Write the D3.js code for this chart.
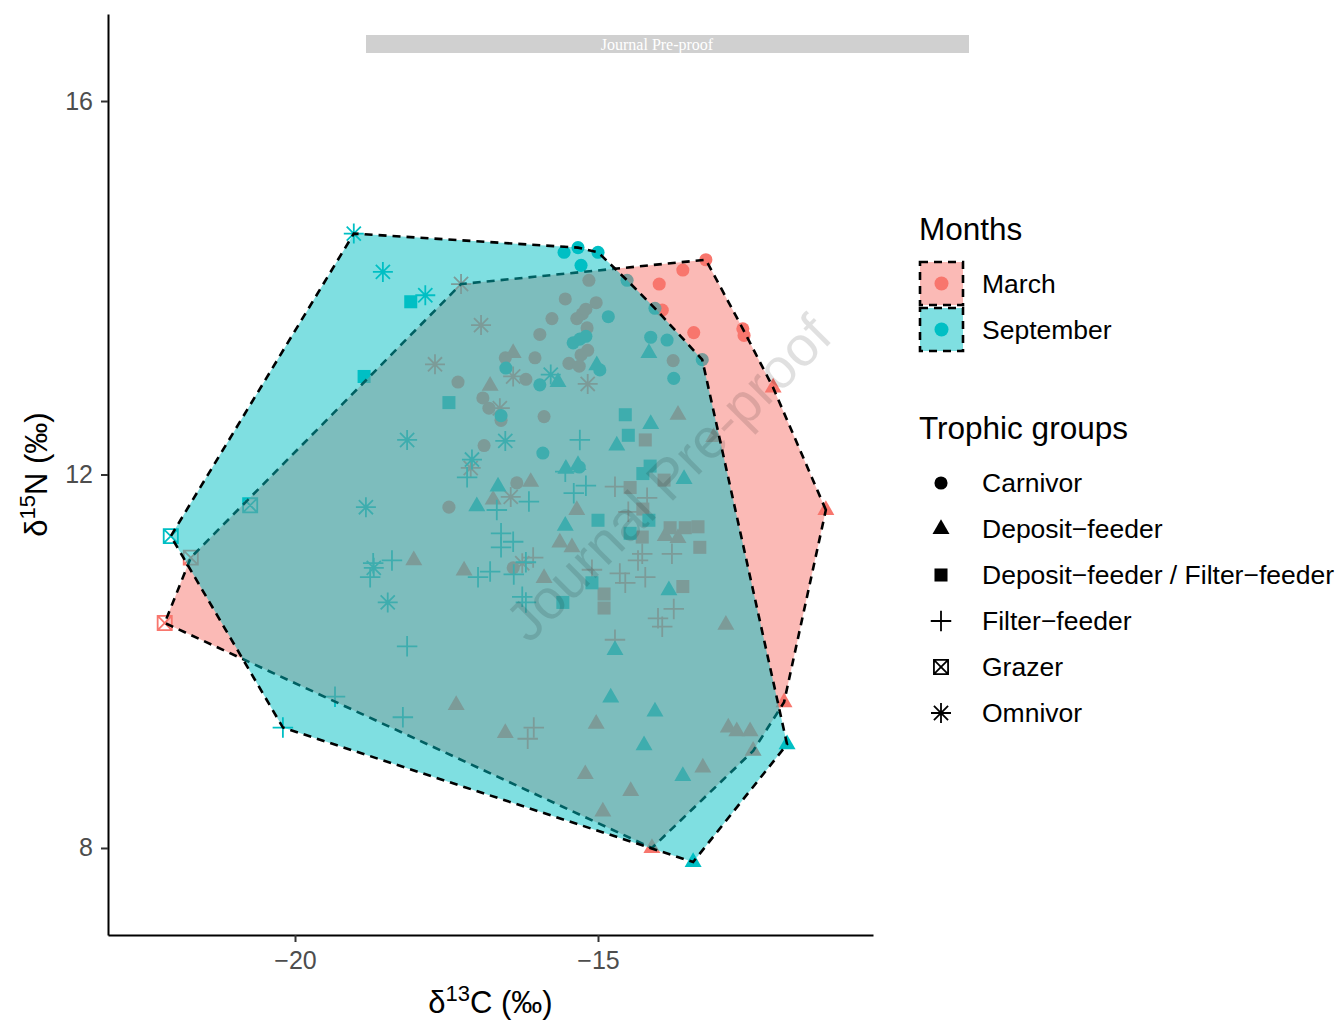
<!DOCTYPE html>
<html>
<head>
<meta charset="utf-8">
<script src="https://cdn.jsdelivr.net/npm/d3@7"></script>
<style>
	body { margin: 0; background: #fff; }
	svg { display: block; font-family: "Liberation Sans", Arial, sans-serif; }
</style>
</head>
<body>
<svg id="chart" width="1336" height="1021"></svg>
<script>
(function() {

	// DATA  (d13C, d15N)
	var xDomain = [-23.086, -10.462];
	var yDomain = [7.068, 16.932];
	var xTicks = [-20, -15];
	var yTicks = [8, 12, 16];

	var months = ['March', 'September'];
	var groups = ['Carnivor', 'Deposit\u2212feeder', 'Deposit\u2212feeder / Filter\u2212feeder',
		'Filter\u2212feeder', 'Grazer', 'Omnivor'];

	var marchCarnivor = [
		[-15.15,14.08],[-15.54,13.88],[-15.03,13.84],[-15.35,13.67],[-15.26,13.72],[-15.20,13.77],
		[-15.76,13.67],[-15.18,13.57],[-15.96,13.50],[-15.17,13.33],[-15.28,13.28],[-16.53,13.25],
		[-16.04,13.25],[-16.19,13.02],[-15.48,13.19],[-15.31,13.16],[-17.31,12.99],[-16.90,12.82],
		[-16.80,12.71],[-16.60,12.58],[-15.89,12.62],[-16.88,12.31],[-16.34,11.91],[-17.46,11.65],
		[-16.40,11.00],[-13.22,14.30],[-13.60,14.19],[-13.99,14.04],[-13.94,13.76],[-13.42,13.52],
		[-12.61,13.56],[-12.59,13.49],[-13.76,13.22]
	];
	var marchDeposit = [
		[-16.40,13.30],[-16.78,12.95],[-13.68,12.64],[-12.11,12.93],[-16.11,11.92],[-16.73,11.73],
		[-15.35,11.62],[-15.63,11.27],[-15.43,11.22],[-18.04,11.08],[-17.21,10.97],[-15.89,10.89],
		[-13.89,11.34],[-13.68,11.32],[-12.89,10.39],[-13.09,12.40],[-11.24,11.62],[-17.34,9.53],
		[-16.53,9.23],[-15.03,9.33],[-15.21,8.79],[-14.92,8.39],[-14.46,8.61],[-13.27,8.86],
		[-12.85,9.29],[-12.71,9.25],[-12.49,9.25],[-12.44,9.04],[-11.93,9.56],[-14.11,8.00]
	];
	var marchMixed = [
		[-14.22,12.37],[-13.91,11.94],[-14.47,11.86],[-14.26,11.63],[-14.27,11.33],[-13.81,11.43],
		[-13.56,11.43],[-13.35,11.44],[-13.32,11.22],[-13.60,10.80],[-14.90,10.72],[-14.90,10.57]
	];
	var marchFilter = [
		[-16.07,11.11],[-15.10,10.98],[-14.72,11.87],[-14.19,11.75],[-14.50,11.60],[-14.27,11.15],
		[-14.34,11.08],[-13.78,11.15],[-14.64,10.94],[-14.55,10.84],[-14.22,10.90],[-13.75,10.56],
		[-14.01,10.46],[-13.94,10.37],[-14.72,10.23],[-16.06,9.29],[-16.16,9.17]
	];
	var marchGrazer = [[-21.72,11.11],[-22.15,10.41]];
	var marchOmnivor = [
		[-17.26,14.04],[-16.93,13.60],[-17.69,13.18],[-16.40,13.05],[-15.17,12.97],[-16.62,12.71],
		[-17.10,12.07],[-16.44,11.76],[-16.25,11.05]
	];

	var septCarnivor = [
		[-15.56,14.38],[-15.33,14.43],[-15.00,14.38],[-15.28,14.24],[-14.83,13.69],[-15.41,13.41],
		[-15.30,13.45],[-15.20,13.48],[-16.52,13.14],[-15.96,12.96],[-14.97,13.12],[-16.60,12.63],
		[-15.91,12.23],[-15.31,12.08],[-14.52,14.08],[-14.06,13.78],[-14.13,13.47],[-13.86,13.44],
		[-13.28,13.23],[-13.75,13.03]
	];
	var septDeposit = [
		[-15.66,12.99],[-15.02,13.17],[-14.16,13.30],[-14.13,12.54],[-15.53,12.06],[-15.33,12.10],
		[-16.65,11.87],[-17.00,11.66],[-15.54,11.45],[-14.69,12.31],[-13.58,11.95],[-13.83,10.76],
		[-14.72,10.12],[-14.79,9.61],[-14.06,9.46],[-14.24,9.10],[-13.60,8.77],[-11.88,9.11],
		[-13.43,7.85]
	];
	var septMixed = [
		[-18.86,13.05],[-18.09,13.85],[-17.46,12.77],[-14.55,12.64],[-14.50,12.42],[-14.14,12.09],
		[-14.26,12.01],[-15.00,11.51],[-14.16,11.51],[-14.47,11.37],[-15.10,10.84],[-15.58,10.63]
	];
	var septFilter = [
		[-15.30,12.37],[-17.16,11.97],[-15.54,12.03],[-16.67,11.62],[-16.14,11.71],[-15.40,11.80],
		[-15.20,11.88],[-16.60,11.37],[-16.40,11.28],[-16.60,11.22],[-18.40,11.08],[-16.98,10.90],
		[-16.78,10.96],[-16.19,11.06],[-16.39,10.93],[-16.25,10.69],[-16.19,10.63],[-18.15,10.16],
		[-18.71,11.05],[-18.76,10.90],[-19.34,9.62],[-18.22,9.40],[-20.20,9.29]
	];
	var septGrazer = [[-22.05,11.34],[-20.74,11.67]];
	var septOmnivor = [
		[-19.03,14.58],[-18.55,14.17],[-17.85,13.92],[-15.78,13.07],[-18.15,12.37],[-16.53,12.36],
		[-17.08,12.16],[-18.83,11.65],[-18.70,11.00],[-18.47,10.63]
	];

	var monthData = {
		'March': [marchCarnivor, marchDeposit, marchMixed, marchFilter, marchGrazer, marchOmnivor],
		'September': [septCarnivor, septDeposit, septMixed, septFilter, septGrazer, septOmnivor]
	};

	//VARS
	var margin = { top: 14, left: 108 };
	var width = 765;
	var height = 921;
	var colors = { 'March': '#F8766D', 'September': '#00BFC4' };
	var font = '"Liberation Sans", Arial, sans-serif';

	var svg = d3.select('#chart');

	// custom ggplot-like symbols
	var symbolPlus = { draw: function(ctx, size) {
		var r = Math.sqrt(size) / 2;
		ctx.moveTo(-r, 0); ctx.lineTo(r, 0);
		ctx.moveTo(0, -r); ctx.lineTo(0, r);
	}};
	var symbolStar = { draw: function(ctx, size) {
		var r = Math.sqrt(size) / 2, k = r * 0.7071;
		ctx.moveTo(-r, 0); ctx.lineTo(r, 0);
		ctx.moveTo(0, -r); ctx.lineTo(0, r);
		ctx.moveTo(-k, -k); ctx.lineTo(k, k);
		ctx.moveTo(-k, k); ctx.lineTo(k, -k);
	}};
	var symbolBoxX = { draw: function(ctx, size) {
		var r = Math.sqrt(size) / 2;
		ctx.rect(-r, -r, 2 * r, 2 * r);
		ctx.moveTo(-r, -r); ctx.lineTo(r, r);
		ctx.moveTo(-r, r); ctx.lineTo(r, -r);
	}};

	var shapes = [
		{ type: d3.symbolCircle, size: 135, filled: true },
		{ type: d3.symbolTriangle, size: 125, filled: true },
		{ type: d3.symbolSquare, size: 170, filled: true },
		{ type: symbolPlus, size: 420, filled: false },
		{ type: symbolBoxX, size: 200, filled: false },
		{ type: symbolStar, size: 400, filled: false }
	];

	// SCALES
	var x = d3.scaleLinear().domain(xDomain).range([0, width]);
	var y = d3.scaleLinear().domain(yDomain).range([height, 0]);

	function buildRows() {
		var rows = [];
		months.forEach(function(m) {
			monthData[m].forEach(function(arr, gi) {
				arr.forEach(function(p) {
					rows.push({ month: m, group: gi, d13C: p[0], d15N: p[1] });
				});
			});
		});
		return rows;
	}

	function styleShape(sel, colorFn) {
		sel.attr('d', function(d) {
				var s = shapes[d.group];
				return d3.symbol().type(s.type).size(s.size)();
			})
			.attr('fill', function(d) { return shapes[d.group].filled ? colorFn(d) : 'none'; })
			.attr('stroke', function(d) { return shapes[d.group].filled ? 'none' : colorFn(d); })
			.attr('stroke-width', 1.8);
	}

	function drawPoints(g, rows) {
		var pts = g.append('g').attr('class', 'points')
			.selectAll('path')
			.data(rows)
			.enter()
			.append('path')
			.attr('transform', function(d) {
				return 'translate(' + x(d.d13C) + ',' + y(d.d15N) + ')';
			});
		styleShape(pts, function(d) { return colors[d.month]; });
	}

	function drawHulls(g, rows) {
		months.forEach(function(m) {
			var pts = rows.filter(function(d) { return d.month === m; })
				.map(function(d) { return [x(d.d13C), y(d.d15N)]; });
			var hull = d3.polygonHull(pts);
			g.append('path')
				.attr('class', 'hull')
				.attr('d', 'M' + hull.join('L') + 'Z')
				.attr('fill', colors[m])
				.attr('fill-opacity', 0.5)
				.attr('stroke', '#000')
				.attr('stroke-width', 2.6)
				.attr('stroke-dasharray', '8,6');
		});
	}

	function drawAxes(g) {
		var xAxis = g.append('g')
			.attr('class', 'axis axis--x')
			.attr('transform', 'translate(0,' + height + ')')
			.call(d3.axisBottom(x).tickValues(xTicks).tickSize(7).tickSizeOuter(0).tickPadding(9));

		var yAxis = g.append('g')
			.attr('class', 'axis axis--y')
			.call(d3.axisLeft(y).tickValues(yTicks).tickSize(7).tickSizeOuter(0).tickPadding(8));

		[xAxis, yAxis].forEach(function(a) {
			a.attr('font-family', font).attr('font-size', 25);
			a.select('.domain').attr('stroke', '#000').attr('stroke-width', 2);
			a.selectAll('.tick line').attr('stroke', '#333').attr('stroke-width', 2);
			a.selectAll('.tick text').attr('fill', '#4D4D4D');
		});

		// axis titles
		var xt = svg.append('text')
			.attr('x', margin.left + width / 2)
			.attr('y', 1013)
			.attr('text-anchor', 'middle')
			.attr('font-size', 31);
		xt.append('tspan').text('\u03b4');
		xt.append('tspan').attr('font-size', 22).attr('dy', -12).text('13');
		xt.append('tspan').attr('dy', 12).text('C (\u2030)');

		var yt = svg.append('text')
			.attr('transform', 'translate(47,' + (margin.top + height / 2) + ')rotate(-90)')
			.attr('text-anchor', 'middle')
			.attr('font-size', 31);
		yt.append('tspan').text('\u03b4');
		yt.append('tspan').attr('font-size', 22).attr('dy', -12).text('15');
		yt.append('tspan').attr('dy', 12).text('N (\u2030)');
	}

	function drawLegend() {
		var leg = svg.append('g').attr('class', 'legend').attr('transform', 'translate(919,0)');

		leg.append('text').attr('x', 0).attr('y', 240).attr('font-size', 31.5).text('Months');

		var keyTops = [262, 308];
		months.forEach(function(m, i) {
			var top = keyTops[i];
			leg.append('rect')
				.attr('x', 1).attr('y', top)
				.attr('width', 43).attr('height', 43)
				.attr('fill', colors[m]).attr('fill-opacity', 0.5)
				.attr('stroke', '#000').attr('stroke-width', 2.6)
				.attr('stroke-dasharray', '8,6');
			leg.append('circle')
				.attr('cx', 22.5).attr('cy', top + 21.5).attr('r', 7)
				.attr('fill', colors[m]);
			leg.append('text')
				.attr('x', 63).attr('y', top + 21.5).attr('dy', '0.35em')
				.attr('font-size', 26.5).text(m);
		});

		leg.append('text').attr('x', 0).attr('y', 439).attr('font-size', 31.5).text('Trophic groups');

		var items = leg.selectAll('.legend-item')
			.data(groups.map(function(name, i) { return { name: name, group: i }; }))
			.enter()
			.append('g')
			.attr('class', 'legend-item')
			.attr('transform', function(d, i) { return 'translate(0,' + (483 + i * 46) + ')'; });

		styleShape(items.append('path').attr('transform', 'translate(22,0)'), function() { return '#000'; });

		items.append('text')
			.attr('x', 63).attr('dy', '0.35em')
			.attr('font-size', 26.5)
			.text(function(d) { return d.name; });
	}

	function drawWatermarks() {
		svg.append('rect')
			.attr('x', 366).attr('y', 35).attr('width', 603).attr('height', 18)
			.attr('fill', '#D0D0D0');
		svg.append('text')
			.attr('x', 657).attr('y', 50)
			.attr('text-anchor', 'middle')
			.attr('font-family', '"Liberation Serif", "DejaVu Serif", serif')
			.attr('font-size', 16)
			.attr('fill', '#fff')
			.text('Journal Pre-proof');

		svg.append('text')
			.attr('transform', 'translate(668,478)rotate(-45)')
			.attr('text-anchor', 'middle')
			.attr('dy', '0.35em')
			.attr('font-size', 56)
			.attr('fill', '#000')
			.attr('fill-opacity', 0.12)
			.text('Journal Pre-proof');
	}

	function init() {
		var rows = buildRows();
		var g = svg.append('g')
			.attr('class', 'container')
			.attr('transform', 'translate(' + margin.left + ',' + margin.top + ')');
		drawPoints(g, rows);
		drawHulls(g, rows);
		drawAxes(g);
		drawLegend();
		drawWatermarks();
	}

	init()
})()
</script>
</body>
</html>
